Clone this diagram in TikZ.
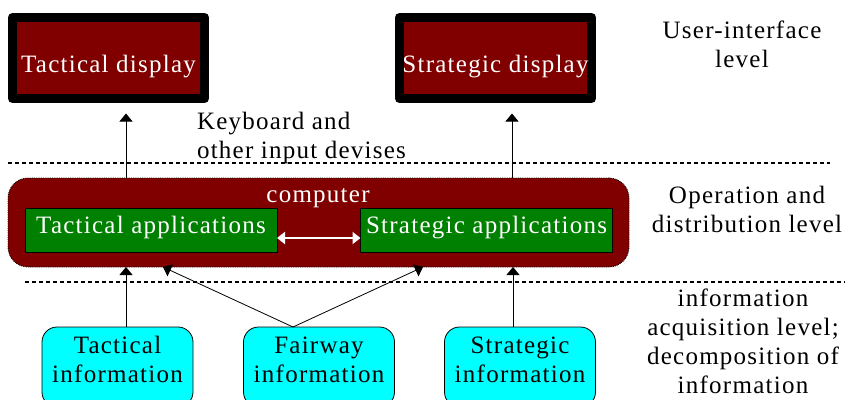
\documentclass[tikz,border=0pt]{standalone}
\usepackage{fontspec}
\setmainfont{Liberation Serif}[LetterSpace=5]
\usetikzlibrary{arrows.meta}
\definecolor{dred}{HTML}{800000}
\definecolor{dgreen}{HTML}{008000}
\definecolor{cyanbox}{HTML}{00FFFF}
\begin{document}
\begin{tikzpicture}[x=1pt,y=-1pt,
  every node/.style={inner sep=0pt,outer sep=0pt,font=\fontsize{25pt}{29pt}\selectfont},
  disp/.style={draw=black,fill=dred,line width=9pt,line join=round,rectangle,minimum width=192pt,minimum height=81pt},
  comp/.style={draw=black,densely dotted,line width=0.8pt,fill=dred,rectangle,rounded corners=20pt,minimum width=621pt,minimum height=89pt},
  app/.style={draw=black,line width=0.8pt,fill=dgreen,rectangle,minimum width=252pt,minimum height=44pt},
  info/.style={draw=black,line width=0.8pt,fill=cyanbox,rectangle,rounded corners=15pt,minimum width=151pt,minimum height=80pt},
  wtxt/.style={text=white,anchor=base},
  btxt/.style={text=black,anchor=base,align=center},
  arr/.style={-{Triangle[width=13pt,length=8pt]},line width=0.8pt,draw=black},
  warr/.style={{Triangle[width=12pt,length=8pt]}-{Triangle[width=12pt,length=8pt]},line width=2pt,draw=white},
  sep/.style={draw=black,line width=1.5pt,dash pattern=on 4pt off 3pt}]
\useasboundingbox (0,0) rectangle (845,399);
\clip (0,0) rectangle (845,399);

% dashed level separators
\coordinate (s1a) at (8,163); \coordinate (s1b) at (830,163);
\coordinate (s2a) at (25,282); \coordinate (s2b) at (845,282);
\draw[sep] (s1a) -- (s1b);
\draw[sep] (s2a) -- (s2b);

% displays
\node[disp] (tdisp) at (108.5,58) {};
\node[disp] (sdisp) at (495.5,58) {};
\node[wtxt] (tdispt) at (108.5,72) {Tactical display};
\node[wtxt] (sdispt) at (495.5,72) {Strategic display};

% computer
\node[comp] (comp) at (318.5,222.5) {};
\node[wtxt] (compt) at (318,202) {computer};
\node[app] (tapp) at (151,230) {};
\node[app] (sapp) at (486.5,230) {};
\node[wtxt] (tappt) at (151,233) {Tactical applications};
\node[wtxt] (sappt) at (486.5,233) {Strategic applications};
\draw[warr] ([yshift=-8pt]tapp.east) -- ([yshift=-8pt]sapp.west);

% information sources
\node[info] (tinfo) at (117.5,367) {};
\node[info] (finfo) at (319,367) {};
\node[info] (sinfo) at (520,367) {};
\node[btxt] (tinfot) at (117.5,382) {Tactical\\information};
\node[btxt] (finfot) at (319,382) {Fairway\\information};
\node[btxt] (sinfot) at (520,382) {Strategic\\information};

% arrow x positions
\coordinate (xa) at (126,0);
\coordinate (xb) at (512,0);
\coordinate (xf) at (293,0);
\coordinate (xf1) at (163,0);
\coordinate (xf2) at (423,0);
\coordinate (xs) at (513,0);

\draw[arr,shorten >=15pt] (comp.north -| xa) -- (tdisp.south -| xa);
\draw[arr,shorten >=15pt] (comp.north -| xb) -- (sdisp.south -| xb);
\draw[arr] (tinfo.north -| xa) -- (comp.south -| xa);
\draw[arr] (finfo.north -| xf) -- (comp.south -| xf1);
\draw[arr] (finfo.north -| xf) -- (comp.south -| xf2);
\draw[arr] (sinfo.north -| xs) -- (comp.south -| xs);

% labels
\node[anchor=base west,align=left] (kbd) at (197,158) {Keyboard and\\other input devises};
\node[btxt] (lvl1) at (742,67) {User-interface\\level};
\node[btxt] (lvl2) at (747,232) {Operation and\\distribution level};
\node[btxt] (lvl3) at (743,393) {information\\acquisition level;\\decomposition of\\information};
\end{tikzpicture}
\end{document}
